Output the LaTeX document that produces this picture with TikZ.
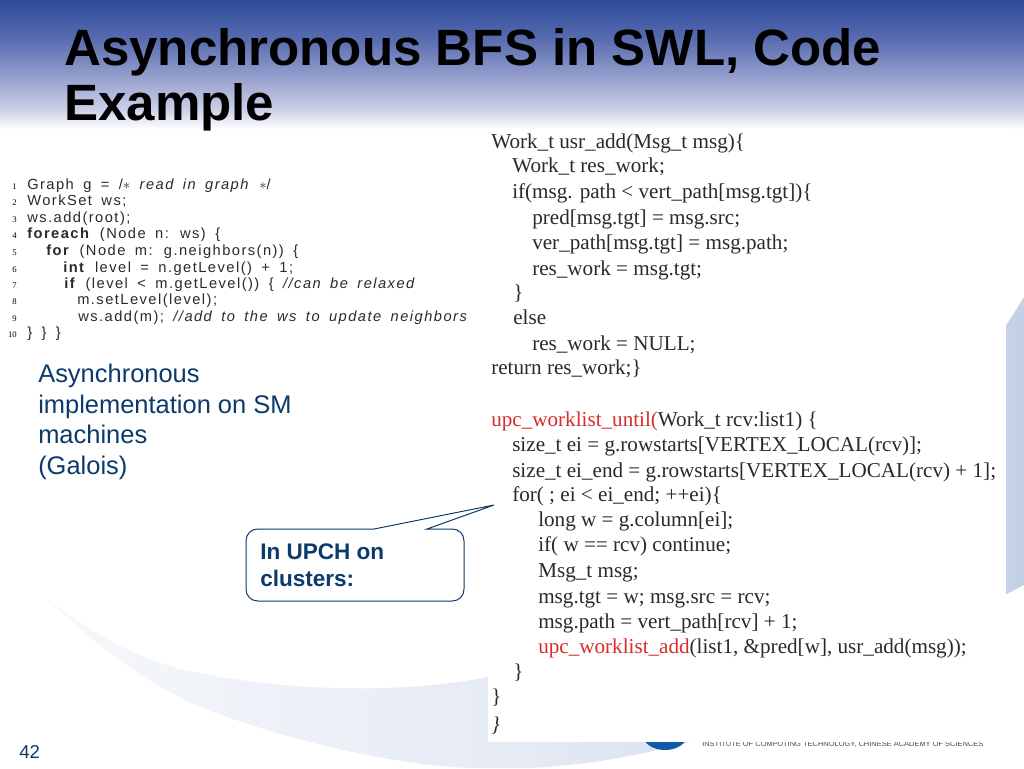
\documentclass[tikz,border=0pt]{standalone}
\usepackage{fontspec}
\setmainfont{Liberation Serif}
\setsansfont{Liberation Sans}
\newfontfamily\lcodefont[LetterSpace=10,WordSpace=1.7]{Liberation Sans}
\definecolor{navy}{HTML}{0B3A6B}
\definecolor{hdra}{HTML}{2C4A9A}
\definecolor{hdrb}{HTML}{5A6DB0}
\definecolor{hdrc}{HTML}{9BA4D0}
\definecolor{hdrd}{HTML}{CDD1E8}
\definecolor{wavefaint}{HTML}{F6F8FB}
\definecolor{wavedark}{HTML}{C4D0E6}
\definecolor{codegray}{HTML}{2A2A2A}
\definecolor{codered}{HTML}{D92B2B}
\definecolor{logoblue}{HTML}{0F5AA8}
\tikzset{
 x=0.75pt,y=-0.75pt,
 lcode/.style={anchor=base west,inner sep=0pt,font=\lcodefont\fontsize{11}{13}\selectfont,text=codegray},
 lnum/.style={anchor=base east,inner sep=0pt,font=\rmfamily\fontsize{6.5}{8}\selectfont,text=black},
 rcode/.style={anchor=base west,inner sep=0pt,font=\rmfamily\fontsize{15.85}{18}\selectfont,text=codegray},
 titletext/.style={anchor=base west,inner sep=0pt,font=\sffamily\bfseries\fontsize{38.3}{42}\selectfont,text=black},
 bodytext/.style={anchor=base west,inner sep=0pt,font=\sffamily\fontsize{19.1}{22}\selectfont,text=navy},
 calltext/.style={anchor=base west,inner sep=0pt,font=\sffamily\bfseries\fontsize{16.9}{20}\selectfont,text=navy}
}
\begin{document}
\begin{tikzpicture}
\useasboundingbox (0,0) rectangle (1024,768);
\fill[white] (0,0) rectangle (1024,768);
% header gradient
\shade[top color=hdra,bottom color=hdrb] (0,0) rectangle (1024,40.3);
\shade[top color=hdrb,bottom color=hdrc] (0,40) rectangle (1024,80.3);
\shade[top color=hdrc,bottom color=hdrd] (0,80) rectangle (1024,110.3);
\shade[top color=hdrd,bottom color=white] (0,110) rectangle (1024,129);
% background wave
\shade[left color=wavefaint,right color=wavedark,middle color=wavefaint!65!wavedark]
 (45,597) .. controls (100,640) and (150,665) .. (200,673)
 .. controls (280,690) and (400,695) .. (487,677)
 .. controls (700,640) and (920,470) .. (1024,297)
 -- (1024,585)
 .. controls (900,650) and (780,705) .. (690,742)
 .. controls (640,755) and (590,765) .. (530,768)
 -- (470,768)
 .. controls (400,765) and (300,745) .. (200,707)
 .. controls (140,680) and (90,640) .. (45,597) -- cycle;
% logo fragment and footer text
\fill[logoblue] (643,738) .. controls (650,754) and (680,754) .. (687,738) -- cycle;
\node[anchor=base west,inner sep=0pt,font=\sffamily\fontsize{5.6}{7}\selectfont,text=black!70] (foot) at (702,746) {INSTITUTE OF COMPUTING TECHNOLOGY, CHINESE ACADEMY OF SCIENCES};
% title
\node[titletext] (t1) at (64,65) {Asynchronous BFS in SWL, Code};
\node[titletext] (t2) at (64,120) {Example};
% right code panel
\fill[white] (488,128) rectangle (1006,742);
\node[rcode] (r1) at (491,148) {Work\_t usr\_add(Msg\_t msg)\{};
\node[rcode] (r2) at (512,172) {Work\_t res\_work;};
\node[rcode] (r3) at (512,198) {if(msg. path < vert\_path[msg.tgt])\{};
\node[rcode] (r4) at (532,224) {pred[msg.tgt] = msg.src;};
\node[rcode] (r5) at (532,249) {ver\_path[msg.tgt] = msg.path;};
\node[rcode] (r6) at (532,275) {res\_work = msg.tgt;};
\node[rcode] (r7) at (513,299) {\}};
\node[rcode] (r8) at (513,324) {else};
\node[rcode] (r9) at (532,350) {res\_work = NULL;};
\node[rcode] (r10) at (491,374) {return res\_work;\}};
\node[rcode] (r11) at (491,426) {\textcolor{codered}{upc\_worklist\_until(}Work\_t rcv:list1) \{};
\node[rcode] (r12) at (512,451) {size\_t ei = g.rowstarts[VERTEX\_LOCAL(rcv)];};
\node[rcode] (r13) at (512,477) {size\_t ei\_end = g.rowstarts[VERTEX\_LOCAL(rcv) + 1];};
\node[rcode] (r14) at (512,501) {for( ; ei < ei\_end; ++ei)\{};
\node[rcode] (r15) at (538,526) {long w = g.column[ei];};
\node[rcode] (r16) at (538,551) {if( w == rcv) continue;};
\node[rcode] (r17) at (538,577) {Msg\_t msg;};
\node[rcode] (r18) at (538,603) {msg.tgt = w; msg.src = rcv;};
\node[rcode] (r19) at (538,628) {msg.path = vert\_path[rcv] + 1;};
\node[rcode] (r20) at (538,653) {\textcolor{codered}{upc\_worklist\_add}(list1, \&pred[w], usr\_add(msg));};
\node[rcode] (r21) at (513,678) {\}};
\node[rcode] (r22) at (491,703) {\}};
\node[rcode] (r23) at (491,731) {\textit{\}}};
% left code
\foreach \n/\yy in {1/189,2/205,3/222,4/238,5/255,6/272,7/288,8/304,9/321,10/337}
  \node[lnum] (n\n) at (17,\yy) {\n};
\node[lcode] (l1) at (27,189) {Graph g = /\(\ast\) \textit{read in graph} \(\ast\)/};
\node[lcode] (l2) at (27,205) {WorkSet ws;};
\node[lcode] (l3) at (27,222) {ws.add(root);};
\node[lcode] (l4) at (27,238) {\textbf{foreach} (Node n: ws) \{};
\node[lcode] (l5) at (46,255) {\textbf{for} (Node m: g.neighbors(n)) \{};
\node[lcode] (l6) at (63,272) {\textbf{int} level = n.getLevel() + 1;};
\node[lcode] (l7) at (64,288) {\textbf{if} (level < m.getLevel()) \{ \textit{//can be relaxed}};
\node[lcode] (l8) at (77,304) {m.setLevel(level);};
\node[lcode] (l9) at (78,321) {ws.add(m); \textit{//add to the ws to update neighbors}};
\node[lcode] (l10) at (27,337) {\} \} \}};
% body text
\node[bodytext] (b1) at (38,382) {Asynchronous};
\node[bodytext] (b2) at (38,413) {implementation on SM};
\node[bodytext] (b3) at (38,443) {machines};
\node[bodytext] (b4) at (38,474) {(Galois)};
% callout
\coordinate (tip) at (494,505);
\filldraw[fill=white,draw=navy,line width=0.75pt,line join=miter]
 (258,529) -- (374,529) -- (tip) -- (427,529) -- (452,529)
 .. controls (459,529) and (464,534) .. (464,541) -- (464,589)
 .. controls (464,596) and (459,601) .. (452,601) -- (258,601)
 .. controls (251,601) and (246,596) .. (246,589) -- (246,541)
 .. controls (246,534) and (251,529) .. (258,529) -- cycle;
\node[calltext] (c1) at (260,559) {In UPCH on};
\node[calltext] (c2) at (260,586) {clusters:};
% page number
\node[anchor=base west,inner sep=0pt,font=\sffamily\fontsize{14}{16}\selectfont,text=navy] (pg) at (19,758) {42};
\end{tikzpicture}
\end{document}
